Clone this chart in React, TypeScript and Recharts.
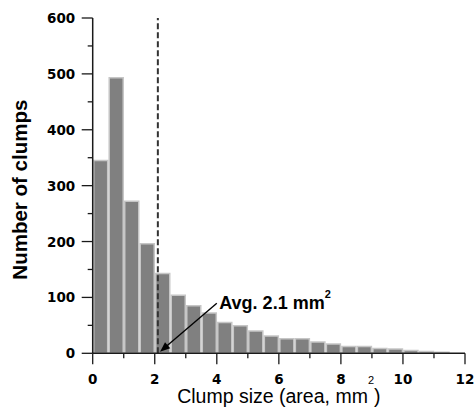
import React from "react";
import {
  ComposedChart,
  Bar,
  XAxis,
  YAxis,
  ReferenceLine,
  ReferenceDot,
} from "recharts";

// bin centers (clump size, mm^2) — bins of 0.5 mm^2
const binCenters = [
  0.25, 0.75, 1.25, 1.75, 2.25, 2.75, 3.25, 3.75, 4.25, 4.75, 5.25, 5.75,
  6.25, 6.75, 7.25, 7.75, 8.25, 8.75, 9.25, 9.75, 10.25, 10.75, 11.25,
];
// number of clumps per bin
const clumpCounts = [
  345, 493, 272, 196, 143, 104, 85, 72, 55, 49.5, 40, 31, 26, 26, 20, 16.5,
  12, 12, 8.5, 7.5, 5, 3, 2,
];
const xTicks = [0, 1, 2, 3, 4, 5, 6, 7, 8, 9, 10, 11, 12];
const yTicks = [0, 50, 100, 150, 200, 250, 300, 350, 400, 450, 500, 550, 600];
const avgSize = 2.1;
const arrowFrom = { x: 4.0, y: 89.5 };
const arrowTo = { x: 2.17, y: 2.9 };
const annotationAt = { x: 4.08, y: 78.8 };

const data = binCenters.map((x, i) => ({ x, count: clumpCounts[i] }));

const AXIS = "#1a1a1a";
const TICK_FONT = "'DejaVu Sans', sans-serif";

const XTick = (props: any) => {
  const { x, y, payload } = props;
  const v = payload.value;
  const major = v % 2 === 0;
  return (
    <g>
      <line x1={x} x2={x} y1={y} y2={y + (major ? 11 : 5)} stroke={AXIS} strokeWidth={1.3} />
      {major && (
        <text
          x={x}
          y={y + 30.5}
          textAnchor="middle"
          fontFamily={TICK_FONT}
          fontWeight="bold"
          fontSize={13.5}
          fill="#000"
        >
          {v}
        </text>
      )}
    </g>
  );
};

const YTick = (props: any) => {
  const { x, y, payload } = props;
  const v = payload.value;
  const major = v % 100 === 0;
  return (
    <g>
      <line x1={x} x2={x - (major ? 11 : 5)} y1={y} y2={y} stroke={AXIS} strokeWidth={1.3} />
      {major && (
        <text
          x={x - 17.5}
          y={y + 5}
          textAnchor="end"
          fontFamily={TICK_FONT}
          fontWeight="bold"
          fontSize={13.5}
          fill="#000"
        >
          {v}
        </text>
      )}
    </g>
  );
};

const XLabel = (props: any) => {
  const vb = props.viewBox || {};
  const cx = vb.x + vb.width / 2;
  const by = vb.y + 49.5;
  return (
    <text
      x={cx}
      y={by}
      textAnchor="middle"
      fontFamily="'Liberation Sans', Arial, sans-serif"
      fontSize={19.5}
      fill="#000"
    >
      Clump size (area, mm
      <tspan fontSize={11} dy={-19}>2</tspan>
      <tspan dy={19}>)</tspan>
    </text>
  );
};

const YLabel = (props: any) => {
  const vb = props.viewBox || {};
  const bx = vb.x - 6;
  const cy = vb.y + vb.height / 2 + 4;
  return (
    <text
      x={bx}
      y={cy}
      transform={`rotate(-90, ${bx}, ${cy})`}
      textAnchor="middle"
      fontFamily="'Liberation Sans', Arial, sans-serif"
      fontWeight="bold"
      fontSize={20.5}
      fill="#000"
    >
      Number of clumps
    </text>
  );
};

const ArrowShape = (props: any) => {
  const { x1, y1, x2, y2 } = props;
  const dx = x2 - x1;
  const dy = y2 - y1;
  const len = Math.sqrt(dx * dx + dy * dy) || 1;
  const ux = dx / len;
  const uy = dy / len;
  const hl = 10;
  const hw = 4;
  const bx = x2 - ux * hl;
  const by = y2 - uy * hl;
  const px = -uy;
  const py = ux;
  return (
    <g>
      <line x1={x1} y1={y1} x2={bx + ux * 2} y2={by + uy * 2} stroke="#000" strokeWidth={1.4} />
      <polygon
        points={`${x2},${y2} ${bx + px * hw},${by + py * hw} ${bx - px * hw},${by - py * hw}`}
        fill="#000"
      />
    </g>
  );
};

const AnnotationShape = (props: any) => {
  const { cx, cy } = props;
  return (
    <text
      x={cx}
      y={cy}
      fontFamily="'Liberation Sans', Arial, sans-serif"
      fontWeight="bold"
      fontSize={18}
      fill="#000"
    >
      Avg. 2.1 mm
      <tspan fontSize={11} dy={-11}>2</tspan>
    </text>
  );
};

export default function App() {
  return (
    <div style={{ position: "absolute", left: 0, top: 0, width: 476, height: 417, background: "#fff" }}>
      <ComposedChart
        width={476}
        height={417}
        data={data}
        margin={{ top: 18, right: 11, bottom: 23.7, left: 32.7 }}
      >
        <XAxis
          dataKey="x"
          type="number"
          domain={[0, 12]}
          ticks={xTicks}
          interval={0}
          allowDataOverflow
          height={40}
          tickSize={0}
          tickMargin={0}
          tick={<XTick />}
          axisLine={{ stroke: AXIS, strokeWidth: 1.5 }}
          label={<XLabel />}
        />
        <YAxis
          type="number"
          domain={[0, 600]}
          ticks={yTicks}
          interval={0}
          allowDataOverflow
          width={60}
          tickSize={0}
          tickMargin={0}
          tick={<YTick />}
          axisLine={{ stroke: AXIS, strokeWidth: 1.5 }}
          label={<YLabel />}
        />
        <Bar
          dataKey="count"
          fill="#808080"
          stroke="#c6c6c6"
          strokeWidth={1.5}
          barSize={14}
          isAnimationActive={false}
        />
        <ReferenceLine
          x={avgSize}
          stroke="#333"
          strokeWidth={2}
          strokeDasharray="6 3"
        />
        <ReferenceLine
          segment={[arrowFrom, arrowTo]}
          shape={ArrowShape}
          ifOverflow="visible"
        />
        <ReferenceDot
          x={annotationAt.x}
          y={annotationAt.y}
          r={0}
          shape={AnnotationShape}
          ifOverflow="visible"
        />
      </ComposedChart>
    </div>
  );
}
